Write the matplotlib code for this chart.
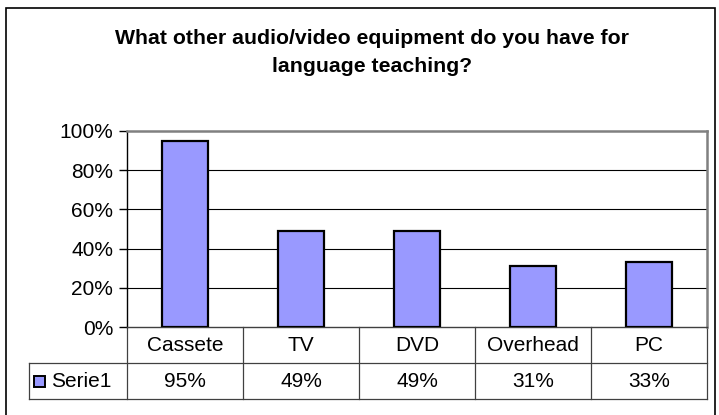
import matplotlib
matplotlib.use("Agg")
import matplotlib.pyplot as plt
from matplotlib.patches import Rectangle
from matplotlib.lines import Line2D

plt.rcParams['font.family'] = ['Liberation Sans', 'DejaVu Sans']

title = "What other audio/video equipment do you have for\nlanguage teaching?"
categories = ["Cassete", "TV", "DVD", "Overhead", "PC"]
values = [95, 49, 49, 31, 33]
series_name = "Serie1"
yticks = [0, 20, 40, 60, 80, 100]

W, H = 719, 415
fig = plt.figure(figsize=(W / 100, H / 100), dpi=100)
FS = 15

# outer border
fig.patches.append(Rectangle((6 / W, -0.05), 709 / W, 1.05 - 8 / H,
                             transform=fig.transFigure, fill=False,
                             edgecolor='black', linewidth=1.2))

fig.text(372 / W, 1 - 52 / H, title, ha='center', va='center',
         fontsize=15.3, fontweight='bold', linespacing=1.6)

left, right, top, bottom = 127, 707, 131, 327
ax = fig.add_axes([left / W, 1 - bottom / H, (right - left) / W, (bottom - top) / H])
x = list(range(len(categories)))
ax.bar(x, values, width=0.405, color='#9999FF', edgecolor='black', linewidth=1.6, zorder=3)
ax.set_xlim(-0.5, len(categories) - 0.5)
ax.set_ylim(0, 100)
ax.set_yticks(yticks)
ax.set_yticklabels([f"{t}%" for t in yticks], fontsize=FS)
ax.set_xticks([])
ax.tick_params(axis='y', length=6, width=1, pad=4, direction='out')
for t in yticks[1:-1]:
    ax.axhline(t, color='black', linewidth=0.8, zorder=1)
ax.spines['left'].set_color('black')
ax.spines['left'].set_linewidth(1)
for s in ['top', 'right']:
    ax.spines[s].set_color('#808080')
    ax.spines[s].set_linewidth(1.8)
ax.spines['bottom'].set_color('#404040')
ax.spines['bottom'].set_linewidth(1)

# data table
row_h = 36 / (bottom - top)
tr = ax.get_xaxis_transform()
n = len(categories)
px = (right - left) / n
x_tab_left = -0.5 - (left - 29) / px
lc = '#404040'
lw = 0.9
ax.add_line(Line2D([x_tab_left, n - 0.5], [-row_h, -row_h], transform=tr, color=lc, lw=lw, clip_on=False))
ax.add_line(Line2D([x_tab_left, n - 0.5], [-2 * row_h, -2 * row_h], transform=tr, color=lc, lw=lw, clip_on=False))
for i in range(n + 1):
    xv = i - 0.5
    ax.add_line(Line2D([xv, xv], [0, -2 * row_h], transform=tr, color=lc, lw=lw, clip_on=False))
ax.add_line(Line2D([x_tab_left, x_tab_left], [-row_h, -2 * row_h], transform=tr, color=lc, lw=lw, clip_on=False))

for i, (c, v) in enumerate(zip(categories, values)):
    ax.text(i, -0.5 * row_h, c, transform=tr, ha='center', va='center', fontsize=FS)
    ax.text(i, -1.5 * row_h, f"{v}%", transform=tr, ha='center', va='center', fontsize=FS)

# legend key in table
key_x = x_tab_left + 5 / px
key_w = 11 / px
key_h = 11 / (bottom - top)
ax.add_patch(Rectangle((key_x, -1.5 * row_h - key_h / 2), key_w, key_h, transform=tr,
                       facecolor='#9999FF', edgecolor='black', linewidth=1.4, clip_on=False))
ax.text(key_x + key_w + 6 / px, -1.5 * row_h, series_name, transform=tr,
        ha='left', va='center', fontsize=FS)

fig.savefig("out.png", dpi=100)
